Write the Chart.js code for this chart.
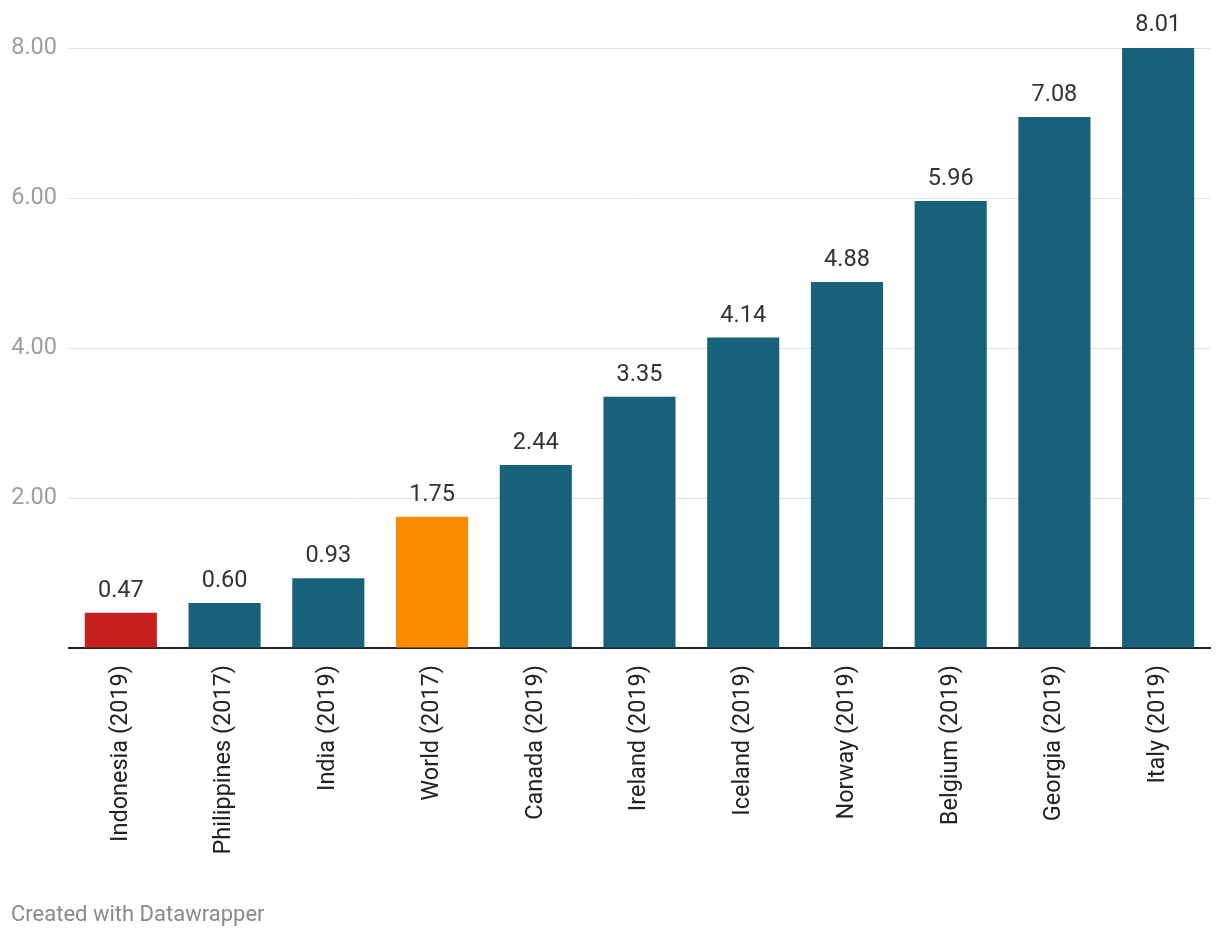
<!DOCTYPE html>
<html><head><meta charset="utf-8">
<script src="https://cdn.jsdelivr.net/npm/chart.js@4.4.1/dist/chart.umd.min.js"></script>
<style>html,body{margin:0;padding:0;background:#fff;}#wrap{width:1220px;height:938px;position:relative;}</style>
</head><body><div id="wrap"><canvas id="c" width="1220" height="938"></canvas></div>
<script>
const categories = ["Indonesia (2019)","Philippines (2017)","India (2019)","World (2017)","Canada (2019)","Ireland (2019)","Iceland (2019)","Norway (2019)","Belgium (2019)","Georgia (2019)","Italy (2019)"];
const values = [0.47,0.60,0.93,1.75,2.44,3.35,4.14,4.88,5.96,7.08,8.01];
const yTicks = [0,2,4,6,8];
const barColors = ["#c71e1e","#17617b","#17617b","#f98b00","#17617b","#17617b","#17617b","#17617b","#17617b","#17617b","#17617b"];
const FONT = "Roboto, 'Noto Sans', sans-serif";

const labelPlugin = {
  id:'vals',
  afterDatasetsDraw(chart){
    const ctx = chart.ctx;
    const meta = chart.getDatasetMeta(0);
    ctx.save();
    ctx.font = "23.5px " + FONT;
    ctx.fillStyle = "#333333";
    ctx.textAlign = "center";
    ctx.textBaseline = "alphabetic";
    meta.data.forEach((bar,i)=>{
      ctx.fillText(values[i].toFixed(2), bar.x, bar.y - 16);
    });
    ctx.font = "22px " + FONT;
    ctx.fillStyle = "#8a8a8a";
    ctx.textAlign = "left";
    ctx.fillText("Created with Datawrapper", 11, 921);
    ctx.restore();
  }
};

new Chart(document.getElementById('c'), {
  type:'bar',
  data:{labels:categories, datasets:[{data:values, backgroundColor:barColors, barPercentage:0.695, categoryPercentage:1}]},
  options:{
    responsive:false, animation:false,
    layout:{padding:{top:48,right:10,left:0,bottom:0}},
    plugins:{legend:{display:false}, tooltip:{enabled:false}},
    scales:{
      x:{
        grid:{display:false},
        border:{display:true,color:'#222',width:2},
        ticks:{minRotation:90,maxRotation:90,autoSkip:false,color:'#222',padding:9,font:{size:23.5,family:FONT}},
        afterFit(s){s.height=290;}
      },
      y:{
        min:0,max:8,
        afterBuildTicks(s){s.ticks = yTicks.map(v=>({value:v}));},
        grid:{color:'#e0e0e0',lineWidth:1,drawTicks:false},
        border:{display:false},
        ticks:{color:'#9e9e9e',padding:12,font:{size:23.5,family:FONT},callback:(v)=> v===0?'':Number(v).toFixed(2)},
        afterFit(s){s.width=69;}
      }
    }
  },
  plugins:[labelPlugin]
});
</script></body></html>
